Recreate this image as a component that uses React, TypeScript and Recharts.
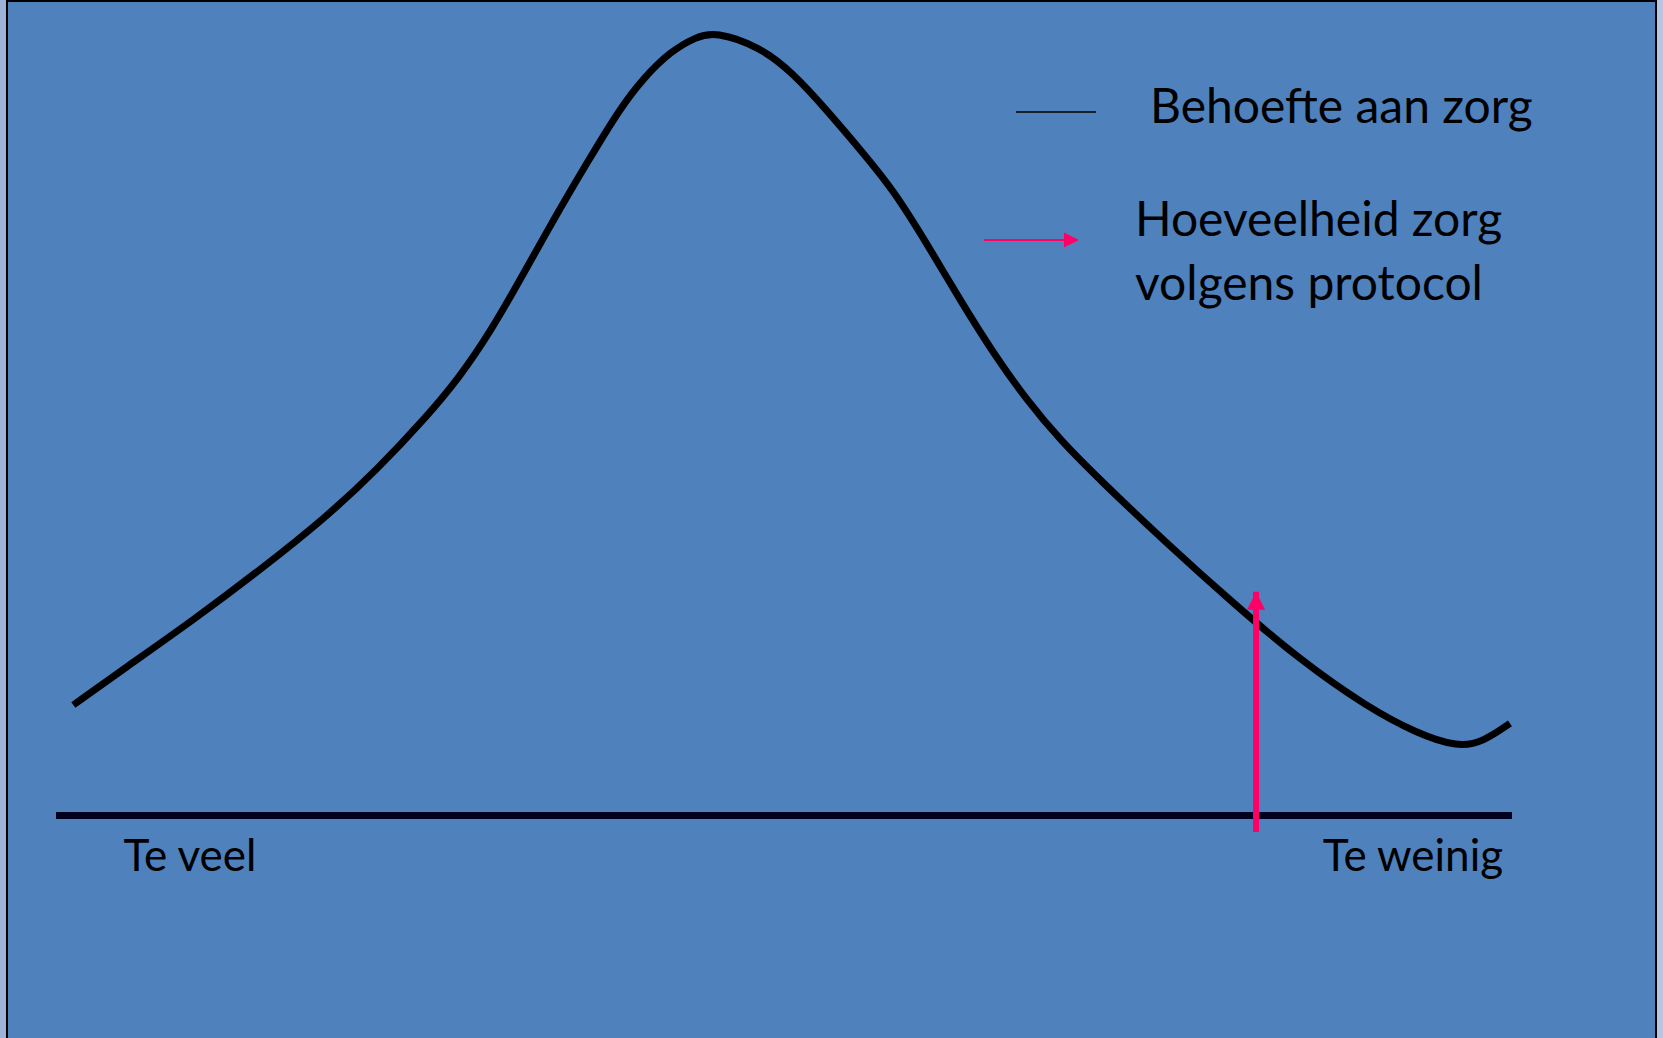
import { ComposedChart, Line, XAxis, YAxis, Legend } from 'recharts'

// curve "behoefte aan zorg" (x: te veel -> te weinig, y: height above baseline)
const CURVE_X = [
  1.19, 4.86, 9.43, 14.01, 18.59, 22.03, 25.46, 27.75, 29.91, 31.87, 34.16, 36.45,
  38.74, 40.34, 42.17, 44.0, 45.26, 48.35, 50.64, 52.93, 55.45, 57.51, 59.8, 62.09,
  64.38, 66.67, 68.96, 71.7, 76.28, 80.86, 85.44, 90.02, 93.45, 96.31, 98.03, 99.86,
]
const CURVE_Y = [
  14.11, 18.99, 24.95, 31.33, 38.13, 44.09, 50.89, 55.99, 61.95, 68.33, 75.98, 83.21,
  90.23, 94.05, 97.45, 99.36, 100.0, 98.09, 94.69, 90.01, 84.49, 79.81, 73.01, 65.78,
  58.97, 53.02, 47.92, 42.81, 34.74, 27.08, 19.85, 13.89, 10.5, 8.71, 9.43, 11.77,
]

// arrow "hoeveelheid zorg volgens protocol"
const PROTOCOL_X = [82.42, 82.42]
const PROTOCOL_Y = [-2.1, 28.56]

const AXIS_TICKS = [9.2, 93.2]
const AXIS_LABELS = ['Te veel', 'Te weinig']

const SERIES_NAMES = ['Behoefte aan zorg', 'Hoeveelheid zorg volgens protocol']

const curveData = CURVE_X.map((x, i) => ({ x, y: CURVE_Y[i] }))
const protocolData = PROTOCOL_X.map((x, i) => ({ x, y: PROTOCOL_Y[i] }))

const FONT = 'Lato, "Open Sans", sans-serif'
const PINK = '#FF0066'

const AxisTick = ({ x, y, payload }: any) => {
  const idx = AXIS_TICKS.indexOf(payload.value)
  return (
    <text x={x} y={y - 23} textAnchor="middle" fontFamily={FONT} fontSize={44} fill="#000">
      {AXIS_LABELS[idx]}
    </text>
  )
}

const ArrowHead = (props: any) => {
  const { cx, cy, index } = props
  if (index !== 1) return <g key={`d-${index}`} />
  return <polygon key={`d-${index}`} points={`${cx},${cy} ${cx - 9},${cy + 18} ${cx + 9},${cy + 18}`} fill={PINK} />
}

const LegendContent = ({ payload }: any) => {
  const first = payload?.[0]?.value ?? SERIES_NAMES[0]
  const words = (payload?.[1]?.value ?? SERIES_NAMES[1]).split(' ')
  const line1 = words.slice(0, 2).join(' ')
  const line2 = words.slice(2).join(' ')
  return (
    <svg width={1663} height={320}>
      <line x1={1016} x2={1096} y1={112} y2={112} stroke="#000" strokeWidth={1.7} />
      <text x={1150} y={123} fontFamily={FONT} fontSize={48} fill="#000">{first}</text>
      <line x1={984} x2={1068} y1={240} y2={240} stroke={PINK} strokeWidth={2} />
      <polygon points="1064,232.5 1079,240 1064,247.5" fill={PINK} />
      <text x={1135} y={236} fontFamily={FONT} fontSize={48} fill="#000">{line1}</text>
      <text x={1135} y={300} fontFamily={FONT} fontSize={48} fill="#000">{line2}</text>
    </svg>
  )
}

export default function App() {
  return (
    <div style={{ position: 'absolute', left: 0, top: 0, width: 1663, height: 1038, background: 'linear-gradient(to right, #9fb3d6 0 50%, #b4c6e7 50% 100%)' }}>
      <div style={{ position: 'absolute', left: 6, top: 0, width: 1651, height: 1038, boxSizing: 'border-box', background: '#4F81BD', borderLeft: '2px solid #000', borderRight: '2px solid #000', borderTop: '2px solid #000' }} />
      <div style={{ position: 'absolute', left: 0, top: 0 }}>
        <ComposedChart width={1663} height={1038} margin={{ top: 16, right: 151, bottom: 104, left: 56 }}>
          <XAxis
            dataKey="x"
            type="number"
            domain={[0, 100]}
            ticks={AXIS_TICKS}
            height={40}
            axisLine={false}
            tickLine={false}
            tickSize={0}
            tickMargin={0}
            tick={<AxisTick />}
            allowDataOverflow
          />
          <YAxis type="number" domain={[-10, 102]} hide allowDataOverflow />
          <Line
            data={[{ x: 0, y: 0 }, { x: 100, y: 0 }]}
            dataKey="y"
            type="linear"
            stroke="#000020"
            strokeWidth={7}
            dot={false}
            legendType="none"
            isAnimationActive={false}
          />
          <Line
            data={curveData}
            dataKey="y"
            name={SERIES_NAMES[0]}
            type="basis"
            stroke="#000"
            strokeWidth={7}
            dot={false}
            isAnimationActive={false}
          />
          <Line
            data={protocolData}
            dataKey="y"
            name={SERIES_NAMES[1]}
            type="linear"
            stroke={PINK}
            strokeWidth={6}
            dot={ArrowHead}
            isAnimationActive={false}
          />
          <Legend
            layout="horizontal"
            verticalAlign="middle"
            align="center"
            content={<LegendContent />}
            wrapperStyle={{ left: 0, top: 0, width: 1663, height: 320 }}
          />
        </ComposedChart>
      </div>
    </div>
  )
}
